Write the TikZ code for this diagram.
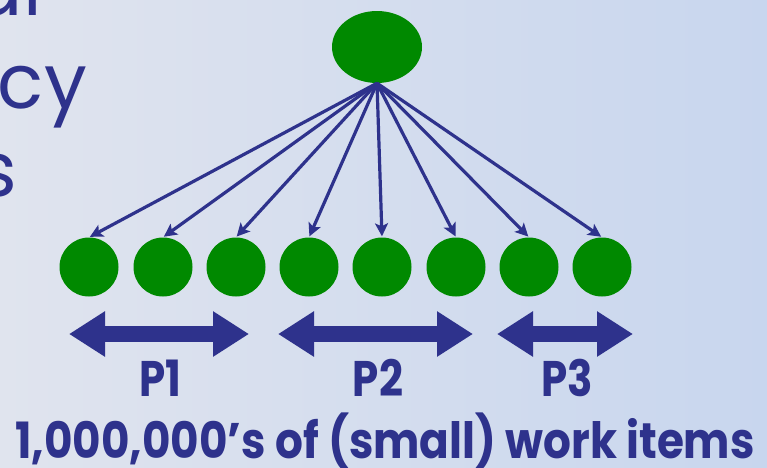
\documentclass[tikz,border=0pt]{standalone}
\usepackage{fontspec}
\setmainfont{Poppins}
\usetikzlibrary{shapes.geometric,arrows.meta}
\definecolor{navy}{RGB}{46,50,140}
\definecolor{leaf}{RGB}{0,137,0}
\definecolor{bgleft}{RGB}{224,228,238}
\definecolor{bgright}{RGB}{200,214,238}
\newcommand\slim[2][0.84]{\scalebox{#1}[1]{#2}}
\tikzset{
  item/.style={circle, fill=leaf, minimum size=59pt, inner sep=0pt},
  spawn/.style={navy, line width=3.2pt, shorten >=1pt, -{Stealth[length=13pt,width=13pt,inset=3pt]}},
  span/.style={navy, line width=16pt, {Triangle[length=36pt,width=43pt]}-{Triangle[length=36pt,width=43pt]}},
  head/.style={navy, font=\fontsize{76}{90}\selectfont, anchor=base east, inner sep=0pt},
  tag/.style={navy, font=\fontsize{50}{60}\selectfont\bfseries, inner sep=0pt},
}
\begin{document}
\begin{tikzpicture}[x=1pt,y=-1pt]
\shade[left color=bgleft, right color=bgright] (0,0) rectangle (767,467);
\clip (0,0) rectangle (767,467);
% heading running off the left edge
\node[head] (h1) at (42,15) {al};
\node[head] (h2) at (87,108) {ncy};
\node[head] (h3) at (17,196) {s};
% one task fanning out into many work items
\node[ellipse, fill=leaf, minimum width=90pt, minimum height=72pt, inner sep=0pt] (root) at (377,47) {};
\foreach \x [count=\i] in {89,163,236,309,382,456,529,602}
  \node[item] (w\i) at (\x,267) {};
\foreach \i in {1,...,8}
  \draw[spawn] (root.south) -- (w\i.north);
% ranges handed to each processor
\coordinate (a1) at (69,334);  \coordinate (b1) at (249,334);
\coordinate (a2) at (278,334); \coordinate (b2) at (473,334);
\coordinate (a3) at (497,334); \coordinate (b3) at (633,334);
\draw[span] (a1) -- (b1);
\draw[span] (a2) -- (b2);
\draw[span] (a3) -- (b3);
\node[tag] (p1) at (160,378) {\slim{P1}};
\node[tag] (p2) at (378,378) {\slim{P2}};
\node[tag] (p3) at (567,378) {\slim{P3}};
\node[tag] (note) at (385,441) {\slim[0.875]{1,000,000's of (small) work items}};
\end{tikzpicture}
\end{document}
